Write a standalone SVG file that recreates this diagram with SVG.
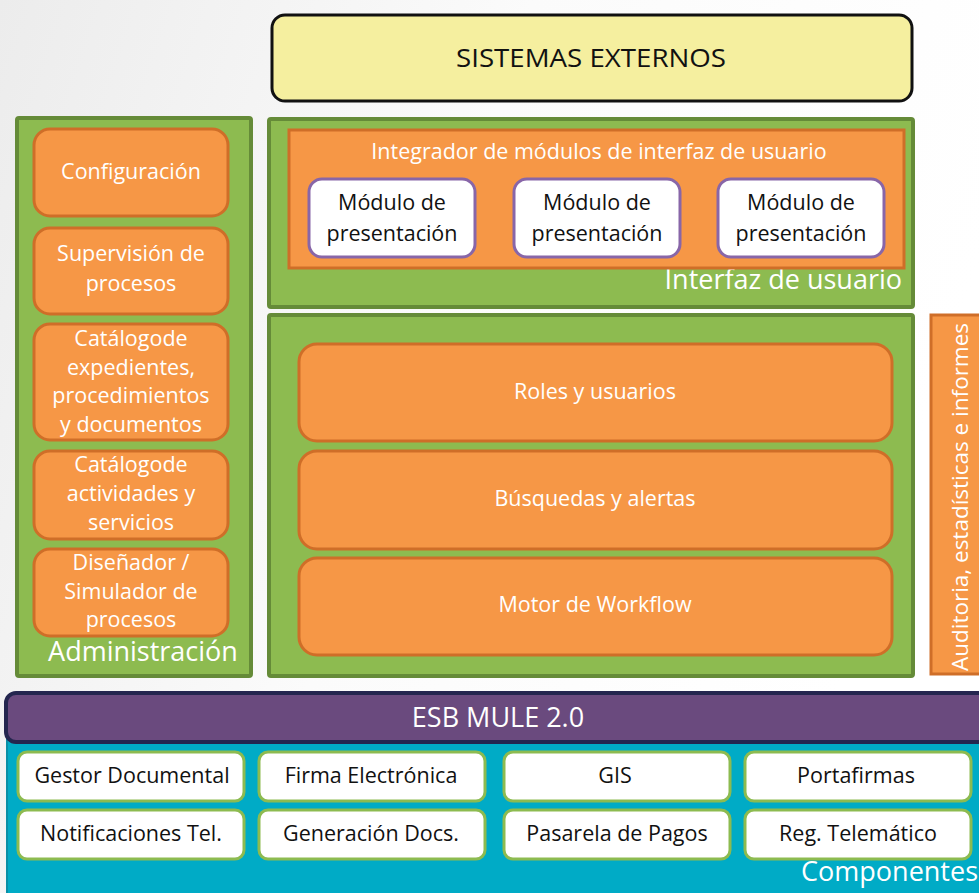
<svg xmlns="http://www.w3.org/2000/svg" width="979" height="893" viewBox="0 0 979 893">
<defs>
<linearGradient id="bg" x1="0" y1="0" x2="1" y2="0.3">
<stop offset="0" stop-color="#ececec"/>
<stop offset="0.5" stop-color="#fbfbfb"/>
<stop offset="1" stop-color="#ffffff"/>
</linearGradient>
<style>
text{font-family:"Open Sans","Noto Sans","DejaVu Sans",sans-serif;text-anchor:middle;}
.panel{fill:#8dbb50;stroke:#658b38;stroke-width:4;}
.orange{fill:#f69746;stroke:#cf6e28;stroke-width:3;}
.mod{fill:#ffffff;stroke:#8866a8;stroke-width:3;}
.comp{fill:#ffffff;stroke:#8dbb50;stroke-width:3;}
.w{fill:#ffffff;font-size:21.5px;}
.b{fill:#111111;font-size:21.5px;}
.big{fill:#ffffff;font-size:27px;}
</style>
</defs>
<rect x="0" y="0" width="979" height="893" fill="url(#bg)"/>

<g id="sistemas-externos">
<rect x="272" y="15" width="640" height="86" rx="13" fill="#f5ef9f" stroke="#111111" stroke-width="3"/>
<text x="591" y="67" style="fill:#111111;font-size:25px" textLength="270" lengthAdjust="spacingAndGlyphs">SISTEMAS EXTERNOS</text>
</g>

<g id="administracion">
<rect class="panel" x="17" y="118" width="234" height="558" rx="2"/>
<text class="big" x="143" y="661">Administración</text>
</g>
<g id="configuracion">
<rect class="orange" x="34" y="129" width="194" height="87" rx="16"/>
<text class="w" x="131" y="179">Configuración</text>
</g>
<g id="supervision">
<rect class="orange" x="34" y="228" width="194" height="86" rx="16"/>
<text class="w" x="131" y="261">Supervisión de</text>
<text class="w" x="131" y="291">procesos</text>
</g>
<g id="catalogo-expedientes">
<rect class="orange" x="34" y="324" width="194" height="116" rx="16"/>
<text class="w" x="131" y="346">Catálogode</text>
<text class="w" x="131" y="375">expedientes,</text>
<text class="w" x="131" y="403">procedimientos</text>
<text class="w" x="131" y="432">y documentos</text>
</g>
<g id="catalogo-actividades">
<rect class="orange" x="34" y="451" width="194" height="88" rx="16"/>
<text class="w" x="131" y="472">Catálogode</text>
<text class="w" x="131" y="501">actividades y</text>
<text class="w" x="131" y="530">servicios</text>
</g>
<g id="disenador">
<rect class="orange" x="34" y="549" width="194" height="87" rx="16"/>
<text class="w" x="131" y="570">Diseñador /</text>
<text class="w" x="131" y="599">Simulador de</text>
<text class="w" x="131" y="627">procesos</text>
</g>

<g id="interfaz-usuario">
<rect class="panel" x="269" y="119" width="644" height="188" rx="2"/>
<text class="big" x="902" y="289" style="text-anchor:end">Interfaz de usuario</text>
</g>
<g id="integrador">
<rect class="orange" x="289" y="130" width="615" height="138"/>
<text class="w" x="599" y="159">Integrador de módulos de interfaz de usuario</text>
</g>
<g id="modulo-1">
<rect class="mod" x="309" y="179" width="166" height="78" rx="13"/>
<text class="b" x="392" y="210">Módulo de</text>
<text class="b" x="392" y="241">presentación</text>
</g>
<g id="modulo-2">
<rect class="mod" x="514" y="179" width="166" height="78" rx="13"/>
<text class="b" x="597" y="210">Módulo de</text>
<text class="b" x="597" y="241">presentación</text>
</g>
<g id="modulo-3">
<rect class="mod" x="718" y="179" width="166" height="78" rx="13"/>
<text class="b" x="801" y="210">Módulo de</text>
<text class="b" x="801" y="241">presentación</text>
</g>

<g id="nucleo">
<rect class="panel" x="269" y="315" width="644" height="361" rx="2"/>
</g>
<g id="roles">
<rect class="orange" x="299" y="344" width="593" height="97" rx="18"/>
<text class="w" x="595" y="399">Roles y usuarios</text>
</g>
<g id="busquedas">
<rect class="orange" x="299" y="451" width="593" height="98" rx="18"/>
<text class="w" x="595" y="506">Búsquedas y alertas</text>
</g>
<g id="motor">
<rect class="orange" x="299" y="558" width="593" height="97" rx="18"/>
<text class="w" x="595" y="612">Motor de Workflow</text>
</g>

<g id="auditoria">
<rect class="orange" x="931" y="315" width="60" height="359"/>
<text class="w" transform="translate(968 497) rotate(-90)" x="0" y="0" style="font-size:22.5px">Auditoria, estadísticas e informes</text>
</g>

<g id="componentes">
<rect x="7" y="735" width="990" height="170" fill="#00abc6" stroke="#0a8fa6" stroke-width="2"/>
<text class="big" x="978" y="881" style="text-anchor:end">Componentes</text>
</g>
<g id="esb">
<rect x="6" y="693" width="990" height="49" rx="10" fill="#6a4a7e" stroke="#24264f" stroke-width="4"/>
<text x="498" y="727" style="fill:#ffffff;font-size:27px">ESB MULE 2.0</text>
</g>

<g id="gestor-documental"><rect class="comp" x="18" y="752" width="226" height="49" rx="9"/><text class="b" x="132" y="783">Gestor Documental</text></g>
<g id="firma-electronica"><rect class="comp" x="259" y="752" width="226" height="49" rx="9"/><text class="b" x="371" y="783">Firma Electrónica</text></g>
<g id="gis"><rect class="comp" x="504" y="752" width="226" height="49" rx="9"/><text class="b" x="615" y="783">GIS</text></g>
<g id="portafirmas"><rect class="comp" x="745" y="752" width="226" height="49" rx="9"/><text class="b" x="856" y="783">Portafirmas</text></g>
<g id="notificaciones"><rect class="comp" x="18" y="810" width="226" height="49" rx="9"/><text class="b" x="131" y="841">Notificaciones Tel.</text></g>
<g id="generacion-docs"><rect class="comp" x="259" y="810" width="226" height="49" rx="9"/><text class="b" x="371" y="841">Generación Docs.</text></g>
<g id="pasarela-pagos"><rect class="comp" x="504" y="810" width="226" height="49" rx="9"/><text class="b" x="617" y="841">Pasarela de Pagos</text></g>
<g id="reg-telematico"><rect class="comp" x="745" y="810" width="226" height="49" rx="9"/><text class="b" x="858" y="841">Reg. Telemático</text></g>

<g id="connectors"></g>
</svg>
